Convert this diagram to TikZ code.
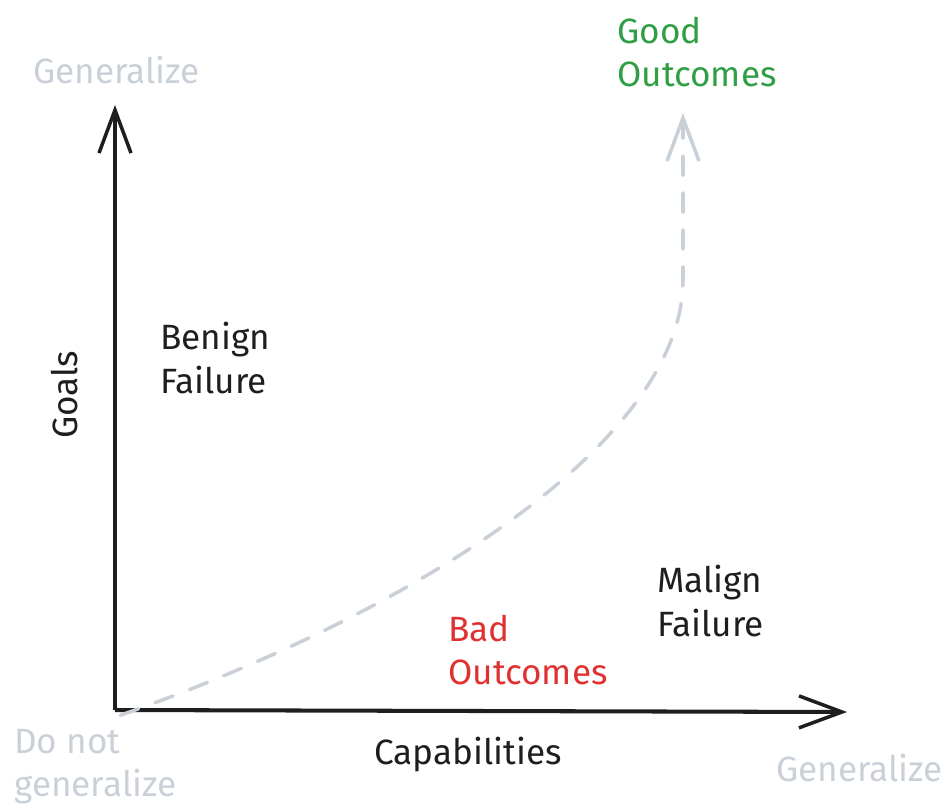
\documentclass[tikz,border=0pt]{standalone}
\usepackage{fontspec}
\setmainfont{Fira Sans}
\usetikzlibrary{arrows.meta}

\definecolor{inkblack}{HTML}{1E1E1E}
\definecolor{softgray}{HTML}{C9D0D8}
\definecolor{goodgreen}{HTML}{2F9E44}
\definecolor{badred}{HTML}{E03131}

\tikzset{
	axisline/.style={inkblack, line width=2.3pt, -{Straight Barb[length=0.86cm, width=0.64cm, line width=2pt]}},
	pathline/.style={softgray, line width=2pt, dash pattern=on 11pt off 10pt, line cap=round, -{Straight Barb[length=0.86cm, width=0.64cm, line width=2pt]}},
	lbl/.style={inner sep=0pt, align=left, font=\fontsize{20}{24.5}\selectfont},
}

\begin{document}
\begin{tikzpicture}[x=0.02cm, y=-0.02cm]
		\useasboundingbox (0,0) rectangle (947,809);
		% axes
		\coordinate (o) at (115,710);
		\coordinate (ytip) at (115,105);
		\coordinate (xtip) at (847,712);
		\coordinate (goodtip) at (683,113);
		\coordinate (bend) at (683,280);
		\draw [axisline] (o) -- (ytip);
		\draw [axisline] (o) -- (xtip);

		% dashed path to good outcomes
		\draw [pathline] ([xshift=3, yshift=-3]o) .. controls (420,610) and (683,440) .. (bend) -- (goodtip);

		% labels
		\node[lbl, softgray, anchor=west] (gentop) at (33,70) {Generalize};
		\node[lbl, goodgreen, anchor=west] (good) at (617,52) {Good\\Outcomes};
		\node[lbl, inkblack, anchor=west] (benign) at (160,358) {Benign\\Failure};
		\node[lbl, inkblack, rotate=90] (goals) at (65,395) {Goals};
		\node[lbl, inkblack, anchor=west] (malign) at (657,601) {Malign\\Failure};
		\node[lbl, badred, anchor=west] (bad) at (448,650) {Bad\\Outcomes};
		\node[lbl, inkblack] (capab) at (468,755) {Capabilities};
		\node[lbl, softgray, anchor=west] (nogen) at (14,767) {Do not\\generalize};
		\node[lbl, softgray, anchor=west] (genright) at (776,768) {Generalize};
	\end{tikzpicture}
\end{document}
